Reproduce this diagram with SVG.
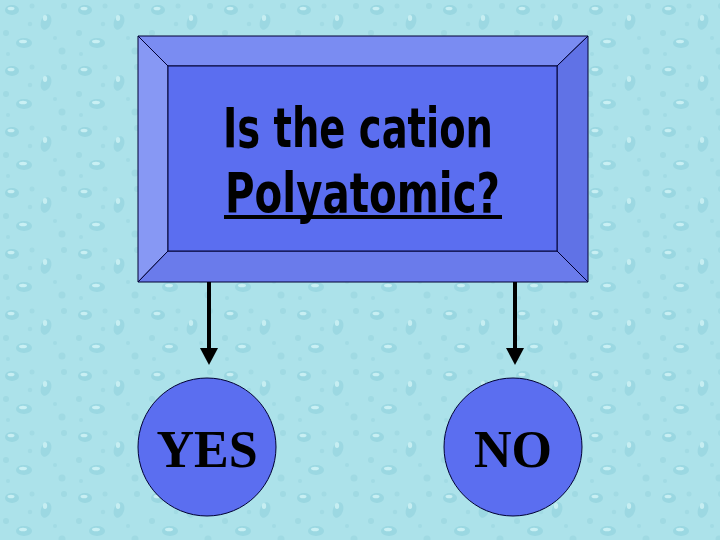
<svg xmlns="http://www.w3.org/2000/svg" width="720" height="540" viewBox="0 0 720 540">
<defs>
<pattern id="drops" width="73" height="61" patternUnits="userSpaceOnUse">
<rect width="73" height="61" fill="#ace2ea"/>
<ellipse cx="12" cy="10" rx="7" ry="5" fill="#9ad7e1"/>
<ellipse cx="11" cy="8.5" rx="3.5" ry="1.8" fill="#c8eff3"/>
<ellipse cx="46" cy="22" rx="5" ry="8" fill="#9cd8e2" transform="rotate(20 46 22)"/>
<ellipse cx="45" cy="18" rx="2.2" ry="3" fill="#c6eef2"/>
<ellipse cx="24" cy="43" rx="8" ry="5" fill="#9bd8e2"/>
<ellipse cx="23" cy="41.5" rx="4" ry="1.8" fill="#c9f0f4"/>
<circle cx="62" cy="51" r="3.5" fill="#a0dae3"/>
<circle cx="6" cy="33" r="3" fill="#a0dae3"/>
<circle cx="32" cy="6" r="2.5" fill="#a2dbe4"/>
<circle cx="64" cy="6" r="3" fill="#a0dae3"/>
<circle cx="55" cy="38" r="2" fill="#a2dbe4"/>
<circle cx="30" cy="24" r="2.2" fill="#a2dbe4"/>
<circle cx="8" cy="54" r="2" fill="#a2dbe4"/>
</pattern>
<style>
.edge{stroke:#000;stroke-width:4;fill:none}
.head{fill:#000}
.bev{stroke:#000033;stroke-width:1}
.title{font-family:Impact,"Liberation Sans Narrow","DejaVu Sans Condensed","Liberation Sans",sans-serif;font-weight:bold;font-size:55px;fill:#000}
.ans{font-family:"Liberation Serif","Times New Roman",serif;font-weight:bold;font-size:52px;fill:#000}
.circ{fill:#5b6ef0;stroke:#000033;stroke-width:1}
</style>
</defs>
<rect width="720" height="540" fill="url(#drops)"/>

<g id="question">
<polygon class="bev" points="138,36 588,36 557,66 168,66" fill="#7a8cf2"/>
<polygon class="bev" points="138,36 168,66 168,251 138,282" fill="#8798f4"/>
<polygon class="bev" points="588,36 588,282 557,251 557,66" fill="#6072e6"/>
<polygon class="bev" points="138,282 168,251 557,251 588,282" fill="#6a7beb"/>
<rect x="168" y="66" width="389" height="185" fill="#5b6ef0" stroke="#000033" stroke-width="1"/>
<text class="title" x="223" y="147" textLength="270" lengthAdjust="spacingAndGlyphs">Is the cation</text>
<text class="title" x="225" y="212" textLength="275" lengthAdjust="spacingAndGlyphs">Polyatomic?</text>
<rect x="224" y="215" width="278" height="4" fill="#000"/>
</g>

<g id="connectors">
<line class="edge" x1="209" y1="282" x2="209" y2="350"/>
<polygon class="head" points="200,348 218,348 209,365"/>
<line class="edge" x1="515" y1="282" x2="515" y2="350"/>
<polygon class="head" points="506,348 524,348 515,365"/>
</g>

<g id="yes">
<circle class="circ" cx="207" cy="447" r="69"/>
<text class="ans" x="207" y="467" text-anchor="middle">YES</text>
</g>

<g id="no">
<circle class="circ" cx="513" cy="447" r="69"/>
<text class="ans" x="513" y="467" text-anchor="middle">NO</text>
</g>
</svg>
